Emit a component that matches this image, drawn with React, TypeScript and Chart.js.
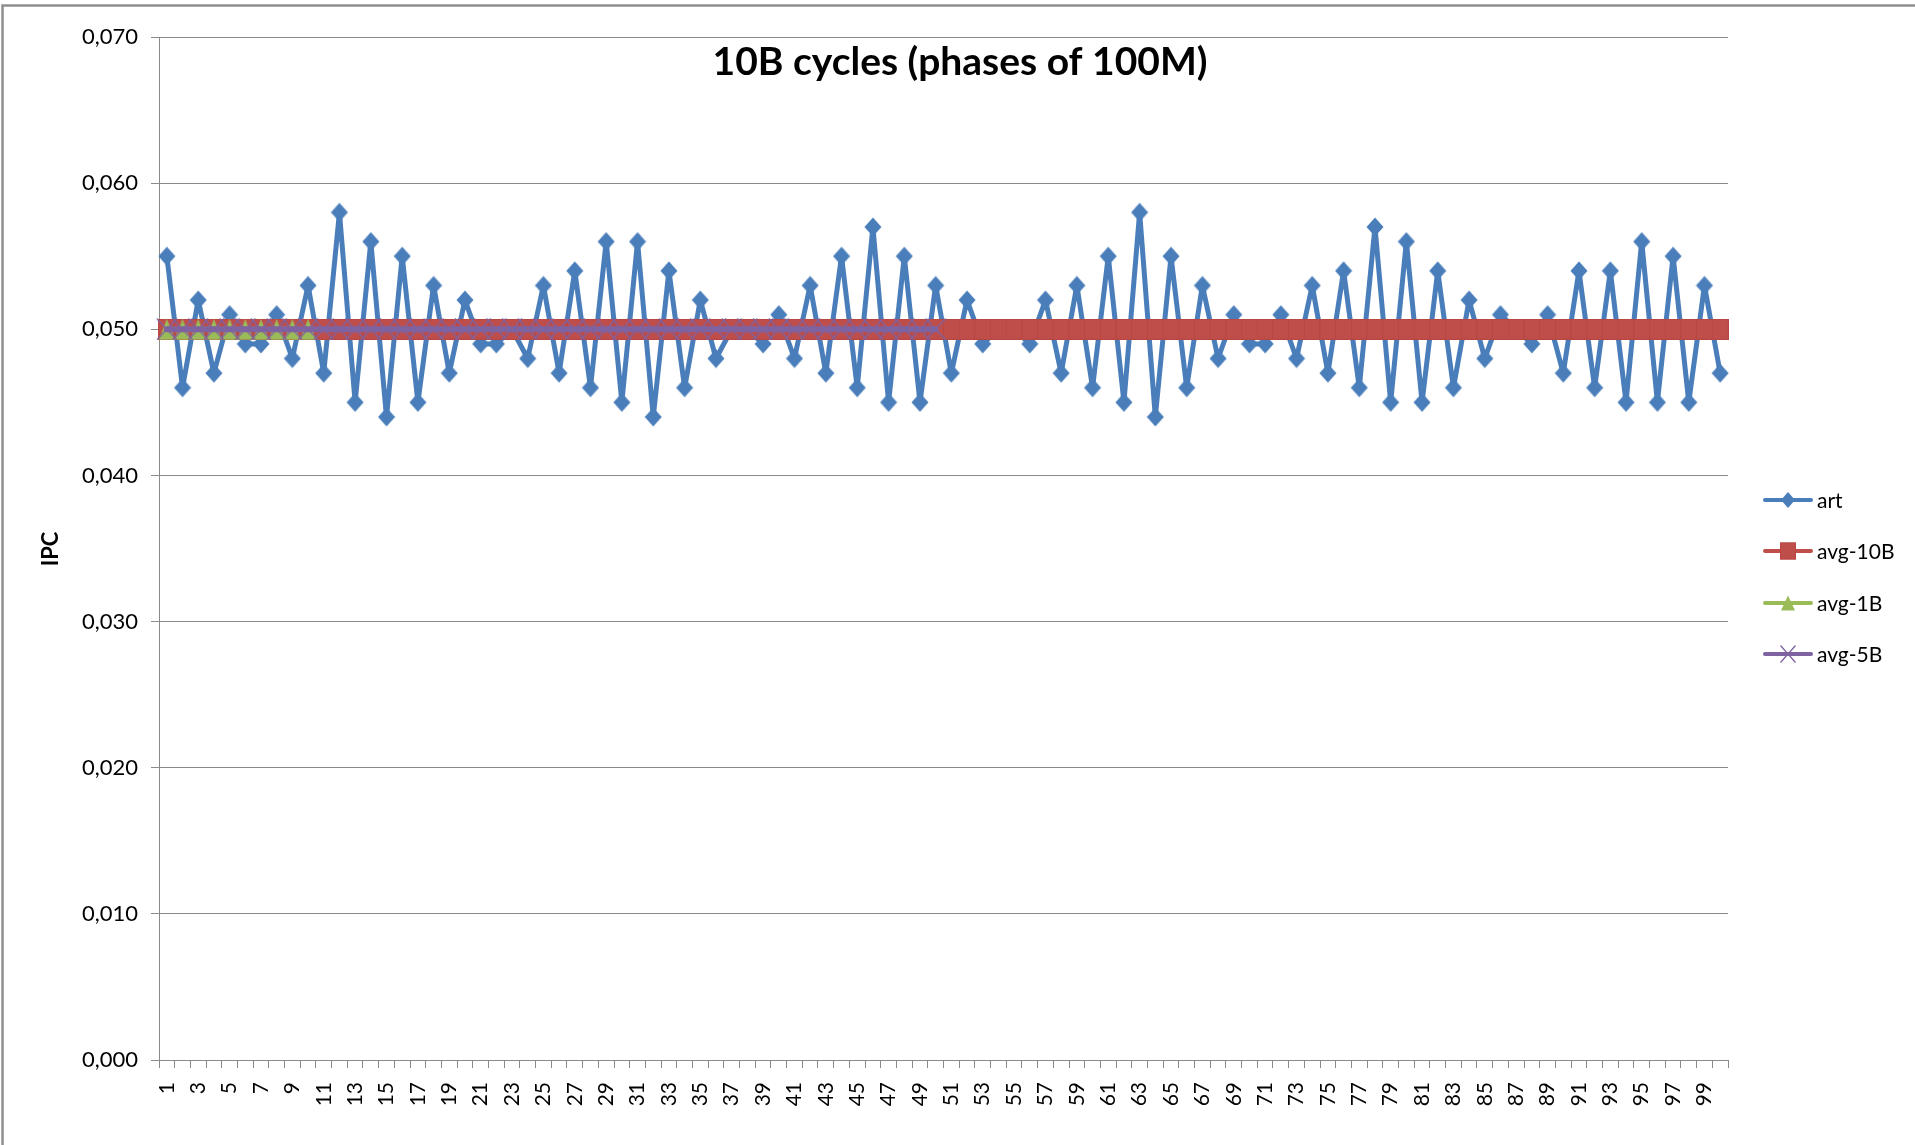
import React, { useEffect, useRef } from "react";
import { Chart, registerables } from "chart.js";

Chart.register(...registerables);

const categories = [
  "1","2","3","4","5","6","7","8","9","10",
  "11","12","13","14","15","16","17","18","19","20",
  "21","22","23","24","25","26","27","28","29","30",
  "31","32","33","34","35","36","37","38","39","40",
  "41","42","43","44","45","46","47","48","49","50",
  "51","52","53","54","55","56","57","58","59","60",
  "61","62","63","64","65","66","67","68","69","70",
  "71","72","73","74","75","76","77","78","79","80",
  "81","82","83","84","85","86","87","88","89","90",
  "91","92","93","94","95","96","97","98","99","100",
];

const art = [
  0.055, 0.046, 0.052, 0.047, 0.051, 0.049, 0.049, 0.051, 0.048, 0.053,
  0.047, 0.058, 0.045, 0.056, 0.044, 0.055, 0.045, 0.053, 0.047, 0.052,
  0.049, 0.049, 0.050, 0.048, 0.053, 0.047, 0.054, 0.046, 0.056, 0.045,
  0.056, 0.044, 0.054, 0.046, 0.052, 0.048, 0.050, 0.050, 0.049, 0.051,
  0.048, 0.053, 0.047, 0.055, 0.046, 0.057, 0.045, 0.055, 0.045, 0.053,
  0.047, 0.052, 0.049, 0.050, 0.050, 0.049, 0.052, 0.047, 0.053, 0.046,
  0.055, 0.045, 0.058, 0.044, 0.055, 0.046, 0.053, 0.048, 0.051, 0.049,
  0.049, 0.051, 0.048, 0.053, 0.047, 0.054, 0.046, 0.057, 0.045, 0.056,
  0.045, 0.054, 0.046, 0.052, 0.048, 0.051, 0.050, 0.049, 0.051, 0.047,
  0.054, 0.046, 0.054, 0.045, 0.056, 0.045, 0.055, 0.045, 0.053, 0.047,
];

const avg10B = [
  0.05, 0.05, 0.05, 0.05, 0.05, 0.05, 0.05, 0.05, 0.05, 0.05,
  0.05, 0.05, 0.05, 0.05, 0.05, 0.05, 0.05, 0.05, 0.05, 0.05,
  0.05, 0.05, 0.05, 0.05, 0.05, 0.05, 0.05, 0.05, 0.05, 0.05,
  0.05, 0.05, 0.05, 0.05, 0.05, 0.05, 0.05, 0.05, 0.05, 0.05,
  0.05, 0.05, 0.05, 0.05, 0.05, 0.05, 0.05, 0.05, 0.05, 0.05,
  0.05, 0.05, 0.05, 0.05, 0.05, 0.05, 0.05, 0.05, 0.05, 0.05,
  0.05, 0.05, 0.05, 0.05, 0.05, 0.05, 0.05, 0.05, 0.05, 0.05,
  0.05, 0.05, 0.05, 0.05, 0.05, 0.05, 0.05, 0.05, 0.05, 0.05,
  0.05, 0.05, 0.05, 0.05, 0.05, 0.05, 0.05, 0.05, 0.05, 0.05,
  0.05, 0.05, 0.05, 0.05, 0.05, 0.05, 0.05, 0.05, 0.05, 0.05,
];

const avg1B = [0.05, 0.05, 0.05, 0.05, 0.05, 0.05, 0.05, 0.05, 0.05, 0.05];

const avg5B = [
  0.05, 0.05, 0.05, 0.05, 0.05, 0.05, 0.05, 0.05, 0.05, 0.05,
  0.05, 0.05, 0.05, 0.05, 0.05, 0.05, 0.05, 0.05, 0.05, 0.05,
  0.05, 0.05, 0.05, 0.05, 0.05, 0.05, 0.05, 0.05, 0.05, 0.05,
  0.05, 0.05, 0.05, 0.05, 0.05, 0.05, 0.05, 0.05, 0.05, 0.05,
  0.05, 0.05, 0.05, 0.05, 0.05, 0.05, 0.05, 0.05, 0.05, 0.05,
];

const seriesNames = ["art", "avg-10B", "avg-1B", "avg-5B"];
const yTicks = [0, 0.01, 0.02, 0.03, 0.04, 0.05, 0.06, 0.07];
const chartTitle = "10B cycles (phases of 100M)";
const yTitle = "IPC";

const BLUE = "#4A7EBB";
const RED = "#BF4D4A";
const RED_EDGE = "#B84744";
const GREEN = "#9BBB59";
const PURPLE = "#7F63A1";
const FONT = "Lato, 'Open Sans', sans-serif";

function makeCanvas(w: number, h: number, draw: (ctx: CanvasRenderingContext2D) => void) {
  const c = document.createElement("canvas");
  c.width = w;
  c.height = h;
  const ctx = c.getContext("2d")!;
  draw(ctx);
  return c;
}

function drawDiamond(ctx: CanvasRenderingContext2D, cx: number, cy: number, hw: number, hh: number) {
  ctx.beginPath();
  ctx.moveTo(cx, cy - hh);
  ctx.lineTo(cx + hw, cy);
  ctx.lineTo(cx, cy + hh);
  ctx.lineTo(cx - hw, cy);
  ctx.closePath();
  ctx.fillStyle = BLUE;
  ctx.fill();
}
function drawRect(ctx: CanvasRenderingContext2D, cx: number, cy: number, hw: number, hh: number) {
  ctx.fillStyle = RED;
  ctx.fillRect(cx - hw, cy - hh, hw * 2, hh * 2);
  ctx.strokeStyle = RED_EDGE;
  ctx.lineWidth = 1;
  ctx.strokeRect(cx - hw + 0.5, cy - hh + 0.5, hw * 2 - 1, hh * 2 - 1);
}
function drawTri(ctx: CanvasRenderingContext2D, cx: number, cy: number, hw: number, hh: number) {
  ctx.beginPath();
  ctx.moveTo(cx, cy - hh);
  ctx.lineTo(cx + hw, cy + hh);
  ctx.lineTo(cx - hw, cy + hh);
  ctx.closePath();
  ctx.fillStyle = GREEN;
  ctx.fill();
}
function drawX(ctx: CanvasRenderingContext2D, cx: number, cy: number, hw: number, hh: number, lw: number) {
  ctx.beginPath();
  ctx.moveTo(cx - hw, cy - hh);
  ctx.lineTo(cx + hw, cy + hh);
  ctx.moveTo(cx + hw, cy - hh);
  ctx.lineTo(cx - hw, cy + hh);
  ctx.strokeStyle = PURPLE;
  ctx.lineWidth = lw;
  ctx.stroke();
}

export default function App() {
  const ref = useRef<HTMLCanvasElement>(null);

  useEffect(() => {
    const diamondImg = makeCanvas(18, 20, (ctx) => drawDiamond(ctx, 9, 10, 8.5, 9.5));
    const rectImg = makeCanvas(17, 21, (ctx) => drawRect(ctx, 8.5, 10.5, 8.5, 10.5));
    const triImg = makeCanvas(16, 22, (ctx) => drawTri(ctx, 8, 11, 8, 10.5));
    const xImg = makeCanvas(22, 22, (ctx) => drawX(ctx, 11, 11, 10, 10.5, 1.3));

    const colors = [BLUE, RED, GREEN, PURPLE];

    const decor = {
      id: "decor",
      beforeDraw(chart: any) {
        const ctx = chart.ctx;
        ctx.save();
        ctx.fillStyle = "#ffffff";
        ctx.fillRect(0, 0, chart.width, chart.height);
        ctx.restore();
      },
      afterDraw(chart: any) {
        const ctx: CanvasRenderingContext2D = chart.ctx;
        ctx.save();
        ctx.strokeStyle = "#8E8E8E";
        ctx.lineWidth = 2.5;
        ctx.beginPath();
        ctx.moveTo(2.5, 1145);
        ctx.lineTo(2.5, 5.5);
        ctx.lineTo(1915, 5.5);
        ctx.stroke();

        ctx.fillStyle = "#000";
        ctx.font = `bold 39px ${FONT}`;
        ctx.textAlign = "center";
        ctx.textBaseline = "middle";
        ctx.fillText(chartTitle, 960, 62);

        ctx.save();
        ctx.translate(51, 549);
        ctx.rotate(-Math.PI / 2);
        ctx.font = `bold 22px ${FONT}`;
        ctx.fillText(yTitle, 0, 0);
        ctx.restore();

        const ys = [500, 551, 603, 654];
        ctx.font = `21px ${FONT}`;
        ctx.textAlign = "left";
        ctx.textBaseline = "middle";
        seriesNames.forEach((name, i) => {
          const y = ys[i];
          ctx.strokeStyle = colors[i];
          ctx.lineWidth = 4;
          ctx.lineCap = "round";
          ctx.beginPath();
          ctx.moveTo(1765, y);
          ctx.lineTo(1811, y);
          ctx.stroke();
          ctx.lineCap = "butt";
          if (i === 0) drawDiamond(ctx, 1788, y, 7, 8);
          if (i === 1) drawRect(ctx, 1788, y, 8, 8.5);
          if (i === 2) drawTri(ctx, 1788, y, 7, 7.5);
          if (i === 3) drawX(ctx, 1788, y, 7.5, 8.5, 1.3);
          ctx.fillStyle = "#000";
          ctx.fillText(name, 1817, y + 1);
        });
        ctx.restore();
      },
    };

    const chart = new Chart(ref.current!, {
      type: "line",
      data: {
        labels: categories,
        datasets: [
          {
            label: seriesNames[0],
            data: art,
            borderColor: BLUE,
            backgroundColor: BLUE,
            borderWidth: 5,
            borderJoinStyle: "round",
            borderCapStyle: "round",
            pointStyle: diamondImg as any,
            pointRadius: 8,
            tension: 0,
            order: 4,
          },
          {
            label: seriesNames[1],
            data: avg10B,
            borderColor: RED,
            backgroundColor: RED,
            borderWidth: 5,
            pointStyle: rectImg as any,
            pointRadius: 8,
            order: 3,
          },
          {
            label: seriesNames[2],
            data: avg1B,
            borderColor: GREEN,
            backgroundColor: GREEN,
            borderWidth: 5,
            pointStyle: triImg as any,
            pointRadius: 8,
            order: 2,
          },
          {
            label: seriesNames[3],
            data: avg5B,
            borderColor: PURPLE,
            backgroundColor: PURPLE,
            borderWidth: 6,
            borderCapStyle: "round",
            pointStyle: xImg as any,
            pointRadius: 8,
            order: 1,
          },
        ],
      },
      options: {
        animation: false,
        responsive: false,
        devicePixelRatio: 1,
        events: [],
        layout: { padding: { top: 37, right: 187, bottom: 0, left: 0 } },
        plugins: {
          legend: { display: false },
          title: { display: false },
          tooltip: { enabled: false },
        },
        scales: {
          x: {
            type: "category",
            offset: true,
            afterFit: (s: any) => {
              s.height = 85;
            },
            grid: {
              offset: true,
              drawOnChartArea: false,
              drawTicks: true,
              tickLength: 8,
              color: "#8A8A8A",
              lineWidth: 1,
            },
            border: { color: "#8A8A8A", width: 1 },
            ticks: {
              autoSkip: false,
              minRotation: 90,
              maxRotation: 90,
              padding: 14,
              color: "#000",
              font: { family: FONT, size: 21 },
              callback: (_v: any, idx: number) => (idx % 2 === 0 ? categories[idx] : ""),
            },
          },
          y: {
            min: yTicks[0],
            max: yTicks[yTicks.length - 1],
            afterFit: (s: any) => {
              s.width = 159;
            },
            afterBuildTicks: (s: any) => {
              s.ticks = yTicks.map((v) => ({ value: v }));
            },
            grid: {
              color: "#8A8A8A",
              lineWidth: 1,
              tickLength: 8,
            },
            border: { color: "#8A8A8A", width: 1 },
            ticks: {
              padding: 13,
              color: "#000",
              font: { family: FONT, size: 22 },
              callback: (v: any) => Number(v).toFixed(3).replace(".", ","),
            },
          },
        },
      },
      plugins: [decor],
    } as any);

    let alive = true;
    if ((document as any).fonts && (document as any).fonts.ready) {
      (document as any).fonts.ready.then(() => {
        if (alive) chart.update();
      });
    }

    return () => {
      alive = false;
      chart.destroy();
    };
  }, []);

  return (
    <div style={{ position: "fixed", left: 0, top: 0, width: 1915, height: 1145, background: "#fff" }}>
      <canvas ref={ref} width={1915} height={1145} style={{ width: 1915, height: 1145, display: "block" }} />
    </div>
  );
}
